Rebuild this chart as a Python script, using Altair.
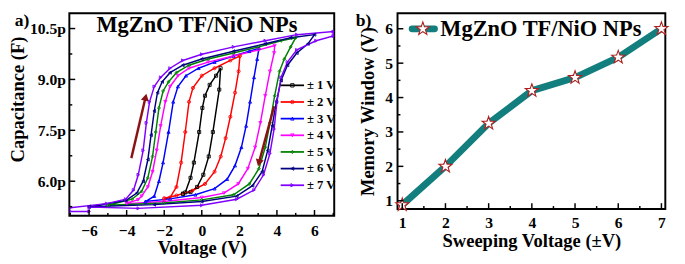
import altair as alt
import pandas as pd

FONT = "Liberation Serif"

# ---------------- Panel a data (C-V hysteresis loops) ----------------
series = ["± 1 V", "± 2 V", "± 3 V", "± 4 V", "± 5 V", "± 6 V", "± 7 V"]
colors = ["#000000", "#FF0000", "#0000FF", "#FF00FF", "#008000", "#00007F", "#8000FF"]
shapes = ["square", "circle", "triangle-up", "triangle-down", "diamond", "triangle-left", "triangle-right"]

v1 = [-1.0, -0.88, -0.6, -0.42, -0.14, 0.03, 0.17, 0.42, 0.76, 1.0, 0.93, 0.59, 0.37, 0.08, -0.25, -0.6, -1.0]
c1 = [5.63, 5.67, 6.10, 6.55, 7.45, 8.16, 8.52, 8.84, 9.11, 9.33, 8.70, 7.45, 6.73, 6.19, 5.83, 5.68, 5.63]

v2 = [-2.0, -1.69, -1.35, -1.10, -0.88, -0.68, -0.47, 0.0, 0.68, 1.52, 2.03, 1.96, 1.77, 1.52, 1.27, 1.01, 0.68, 0.17, -0.51, -1.35, -2.0]
c2 = [5.47, 5.52, 5.83, 6.55, 7.45, 8.34, 8.75, 9.11, 9.33, 9.56, 9.69, 9.24, 8.61, 7.90, 7.27, 6.73, 6.28, 5.92, 5.72, 5.58, 5.50]

v3 = [-3.0, -2.53, -2.28, -2.06, -1.77, -1.52, -1.27, -0.84, -0.17, 0.68, 1.69, 2.53, 3.04, 2.95, 2.78, 2.57, 2.36, 2.11, 1.77, 1.35, 0.68, -0.34, -1.69, -3.0]
c3 = [5.40, 5.56, 6.00, 6.55, 7.45, 8.34, 8.79, 9.11, 9.33, 9.51, 9.69, 9.83, 9.92, 9.60, 9.06, 8.34, 7.63, 7.00, 6.46, 6.06, 5.78, 5.60, 5.48, 5.40]

v4 = [-4.0, -3.4, -3.2, -2.87, -2.62, -2.40, -2.19, -1.94, -1.69, -1.27, -0.68, 0.34, 1.69, 3.04, 3.88,
      3.85, 3.63, 3.38, 3.12, 2.84, 2.45, 1.94, 1.18, 0.0, -2.03, -4.0]
c4 = [5.36, 5.45, 5.56, 5.83, 6.28, 6.91, 7.63, 8.34, 8.79, 9.11, 9.33, 9.51, 9.69, 9.87, 10.00,
      9.78, 9.24, 8.52, 7.72, 7.00, 6.37, 5.92, 5.65, 5.52, 5.40, 5.34]

v5 = [-5.0, -3.71, -3.2, -2.87, -2.62, -2.45, -2.28, -2.06, -1.77, -1.35, -0.68, 0.34, 1.69, 3.04, 4.22, 5.0,
      4.73, 4.39, 4.14, 3.88, 3.63, 3.38, 3.04, 2.53, 1.69, 0.0, -2.03, -5.0]
c5 = [5.29, 5.47, 5.70, 6.10, 6.73, 7.45, 8.16, 8.66, 8.93, 9.20, 9.42, 9.60, 9.78, 9.96, 10.14, 10.23,
      9.96, 9.60, 9.24, 8.52, 7.72, 7.00, 6.37, 5.92, 5.60, 5.45, 5.36, 5.29]

v6 = [-6.0, -4.05, -3.46, -3.12, -2.87, -2.70, -2.53, -2.36, -2.11, -1.69, -1.01, 0.0, 1.69, 3.38, 4.73, 6.0,
      5.65, 5.06, 4.56, 4.22, 3.97, 3.75, 3.51, 3.21, 2.70, 1.86, 0.0, -2.53, -6.0]
c6 = [5.25, 5.43, 5.65, 6.00, 6.64, 7.36, 8.07, 8.61, 8.93, 9.20, 9.42, 9.60, 9.83, 10.05, 10.23, 10.32,
      10.05, 9.78, 9.42, 8.97, 8.34, 7.63, 6.91, 6.28, 5.87, 5.56, 5.40, 5.31, 5.25]

v7 = [-7.0, -5.06, -4.05, -3.63, -3.38, -3.12, -2.95, -2.78, -2.53, -2.19, -1.69, -1.01, 0.0, 1.69, 3.38, 5.06, 7.0,
      7.0, 6.08, 5.06, 4.56, 4.22, 4.0, 3.85, 3.63, 3.29, 2.78, 1.86, 0.0, -3.38, -6.0, -6.0, -7.0]
c7 = [5.22, 5.34, 5.47, 5.74, 6.19, 6.91, 7.72, 8.34, 8.79, 9.06, 9.33, 9.56, 9.74, 9.96, 10.14, 10.32, 10.41,
      10.28, 10.14, 9.87, 9.51, 9.06, 8.34, 7.54, 6.82, 6.19, 5.74, 5.47, 5.29, 5.20, 5.24, 5.11, 5.11]

loops_v = [v1, v2, v3, v4, v5, v6, v7]
loops_c = [c1, c2, c3, c4, c5, c6, c7]

# arrows (data coordinates): start -> tip
arrow_v0 = [-3.75, 3.85]
arrow_c0 = [6.68, 8.21]
arrow_v1 = [-2.99, 3.04]
arrow_c1 = [8.48, 6.54]
arrow_angle = [12.6, 194.7]

xa_major = [-6, -4, -2, 0, 2, 4, 6]
xa_minor = [-7, -5, -3, -1, 1, 3, 5, 7]
ya_major = [6.0, 7.5, 9.0, 10.5]
ya_minor = [5.25, 6.75, 8.25, 9.75]

title_text = "MgZnO TF/NiO NPs"

# ---------------- Panel b data ----------------
sweep = [1, 2, 3, 4, 5, 6, 7]
window = [0.88, 2.0, 3.25, 4.2, 4.58, 5.17, 6.0]
xb_major = [1, 2, 3, 4, 5, 6, 7]
xb_minor = [1.5, 2.5, 3.5, 4.5, 5.5, 6.5]
yb_major = [1, 2, 3, 4, 5, 6]
yb_minor = [1.5, 2.5, 3.5, 4.5, 5.5]

TEAL = "#127E7E"
STAR_RED = "#B01E1E"
ARROW = "#8B1212"
STAR = ("M0,-1L0.235,-0.324L0.951,-0.309L0.380,0.124L0.588,0.809L0,0.4"
        "L-0.588,0.809L-0.380,0.124L-0.951,-0.309L-0.235,-0.324Z")

WA, HA = 272, 208
WB, HB = 275, 201

rows = []
for name, vs, cs in zip(series, loops_v, loops_c):
    for i, (v, c) in enumerate(zip(vs, cs)):
        rows.append({"s": name, "v": v, "c": c, "o": i})
df = pd.DataFrame(rows)

label_axis = dict(labelFont=FONT, labelFontSize=16, labelFontWeight="bold", labelColor="black",
                  titleFont=FONT, titleFontWeight="bold", titleColor="black",
                  ticks=False, domain=False, grid=False)

xs_a = alt.Scale(domain=[-7.05, 7.05], nice=False, zero=False)
ys_a = alt.Scale(domain=[4.98, 10.95], nice=False, zero=False)
cscale = alt.Scale(domain=series, range=colors)
sscale = alt.Scale(domain=series, range=shapes)

ax_xa = alt.Axis(values=xa_major, title="Voltage (V)", titleFontSize=19,
                 labelPadding=7, titlePadding=1, **label_axis)
ax_ya = alt.Axis(values=ya_major, title="Capacitance (F)", titleFontSize=19, titleY=88,
                 labelExpr="format(datum.value, '.1f') + 'p'",
                 labelPadding=4, titlePadding=2, **label_axis)

lines = alt.Chart(df).mark_line(strokeWidth=1.5, clip=True).encode(
    x=alt.X("v:Q", scale=xs_a, axis=ax_xa),
    y=alt.Y("c:Q", scale=ys_a, axis=ax_ya),
    color=alt.Color("s:N", scale=cscale, legend=None),
    detail="s:N",
    order="o:Q",
)
pts = alt.Chart(df).mark_point(size=10, filled=False, strokeWidth=0.9, clip=True, opacity=1).encode(
    x=alt.X("v:Q", scale=xs_a, axis=ax_xa),
    y=alt.Y("c:Q", scale=ys_a, axis=ax_ya),
    color=alt.Color("s:N", scale=cscale, legend=None),
    shape=alt.Shape("s:N", scale=sscale, legend=None),
)

arrows_df = pd.DataFrame({"v": arrow_v0, "c": arrow_c0, "v1": arrow_v1, "c1": arrow_c1, "ang": arrow_angle})
arrow_lines = alt.Chart(arrows_df).mark_rule(color=ARROW, strokeWidth=2.5).encode(
    x=alt.X("v:Q", scale=xs_a, axis=ax_xa), y=alt.Y("c:Q", scale=ys_a, axis=ax_ya),
    x2="v1:Q", y2="c1:Q")
arrow_heads = alt.Chart(arrows_df).mark_point(shape="triangle-up", size=70, filled=True,
                                              color=ARROW, opacity=1).encode(
    x=alt.X("v1:Q", scale=xs_a, axis=ax_xa), y=alt.Y("c1:Q", scale=ys_a, axis=ax_ya),
    angle=alt.Angle("ang:Q", scale=None))


def xticks(vals, scale, axis, length, h):
    return alt.Chart(pd.DataFrame({"t": vals})).mark_rule(color="black", strokeWidth=1.5).encode(
        x=alt.X("t:Q", scale=scale, axis=axis), y=alt.value(h), y2=alt.value(h - length))


def yticks(vals, scale, axis, length):
    return alt.Chart(pd.DataFrame({"t": vals})).mark_rule(color="black", strokeWidth=1.5).encode(
        y=alt.Y("t:Q", scale=scale, axis=axis), x=alt.value(0), x2=alt.value(length))


leg = pd.DataFrame({"s": series, "i": list(range(len(series)))})
leg_base = alt.Chart(leg).transform_calculate(py="74 + 17.1 * datum.i")
leg_lines = leg_base.mark_rule(strokeWidth=1.8).encode(
    x=alt.value(217), x2=alt.value(241), y=alt.Y("py:Q", scale=None),
    color=alt.Color("s:N", scale=cscale, legend=None))
leg_pts = leg_base.mark_point(size=12, filled=False, strokeWidth=0.9, opacity=1).encode(
    x=alt.value(229), y=alt.Y("py:Q", scale=None),
    color=alt.Color("s:N", scale=cscale, legend=None),
    shape=alt.Shape("s:N", scale=sscale, legend=None))
leg_text = leg_base.mark_text(align="left", baseline="middle", font=FONT, fontSize=13,
                              fontWeight="bold", color="black").encode(
    x=alt.value(244), y=alt.Y("py:Q", scale=None), text="s:N")

txt_df = pd.DataFrame({"label": [title_text], "tag": ["a)"]})
title_a = alt.Chart(txt_df).mark_text(font=FONT, fontSize=23, fontWeight="bold", color="black",
                                      align="center", baseline="middle").encode(
    x=alt.value(131), y=alt.value(12), text="label:N")
tag_a = alt.Chart(txt_df).mark_text(font=FONT, fontSize=18, fontWeight="bold", color="black",
                                    align="left", baseline="middle").encode(
    x=alt.value(-56), y=alt.value(8), text="tag:N")

panel_a = alt.layer(
    lines, pts, arrow_lines, arrow_heads,
    xticks(xa_major, xs_a, ax_xa, 6, HA), xticks(xa_minor, xs_a, ax_xa, 3, HA),
    yticks(ya_major, ys_a, ax_ya, 6), yticks(ya_minor, ys_a, ax_ya, 3),
    leg_lines, leg_pts, leg_text, title_a, tag_a,
).properties(width=WA, height=HA)

# ---------------- Panel b ----------------
dfb = pd.DataFrame({"x": sweep, "y": window})
xs_b = alt.Scale(domain=[0.89, 7.09], nice=False, zero=False)
ys_b = alt.Scale(domain=[0.76, 6.45], nice=False, zero=False)

ax_xb = alt.Axis(values=xb_major, format="d", title="Sweeping Voltage (±V)",
                 titleFontSize=19, labelPadding=6, titlePadding=2, **label_axis)
ax_yb = alt.Axis(values=yb_major, format="d", title="Memory Window (V)",
                 titleFontSize=19, labelPadding=5, titlePadding=8, **label_axis)

line_b = alt.Chart(dfb).mark_line(color=TEAL, strokeWidth=7, strokeCap="round").encode(
    x=alt.X("x:Q", scale=xs_b, axis=ax_xb),
    y=alt.Y("y:Q", scale=ys_b, axis=ax_yb),
)
stars_b = alt.Chart(dfb).mark_point(shape=STAR, size=200, filled=True, fill="white", stroke=STAR_RED,
                                    strokeWidth=1.1, opacity=1).encode(
    x=alt.X("x:Q", scale=xs_b, axis=ax_xb), y=alt.Y("y:Q", scale=ys_b, axis=ax_yb))

txt_b = pd.DataFrame({"label": [title_text], "tag": ["b)"], "k": [0]})
leg_b_line = alt.Chart(txt_b).mark_rule(color=TEAL, strokeWidth=7, strokeCap="round").encode(
    x=alt.value(15), x2=alt.value(38), y=alt.value(16))
leg_b_star = alt.Chart(txt_b).mark_point(shape=STAR, size=200, filled=True, fill="white", stroke=STAR_RED,
                                         strokeWidth=1.1, opacity=1).encode(
    x=alt.value(26), y=alt.value(16))
leg_b_text = alt.Chart(txt_b).mark_text(font=FONT, fontSize=23, fontWeight="bold", color="black",
                                        align="left", baseline="middle").encode(
    x=alt.value(44), y=alt.value(16), text="label:N")
tag_b = alt.Chart(txt_b).mark_text(font=FONT, fontSize=18, fontWeight="bold", color="black",
                                   align="left", baseline="middle").encode(
    x=alt.value(-43), y=alt.value(8), text="tag:N")

panel_b = alt.layer(
    line_b, stars_b,
    xticks(xb_major, xs_b, ax_xb, 6, HB), xticks(xb_minor, xs_b, ax_xb, 3, HB),
    yticks(yb_major, ys_b, ax_yb, 6), yticks(yb_minor, ys_b, ax_yb, 3),
    leg_b_line, leg_b_star, leg_b_text, tag_b,
).properties(width=WB, height=HB)

chart = alt.hconcat(panel_a, panel_b, spacing=18).properties(padding=0).configure_view(
    stroke="black", strokeWidth=2)

chart.save("out.html", embed_options={"renderer": "svg", "actions": False})
